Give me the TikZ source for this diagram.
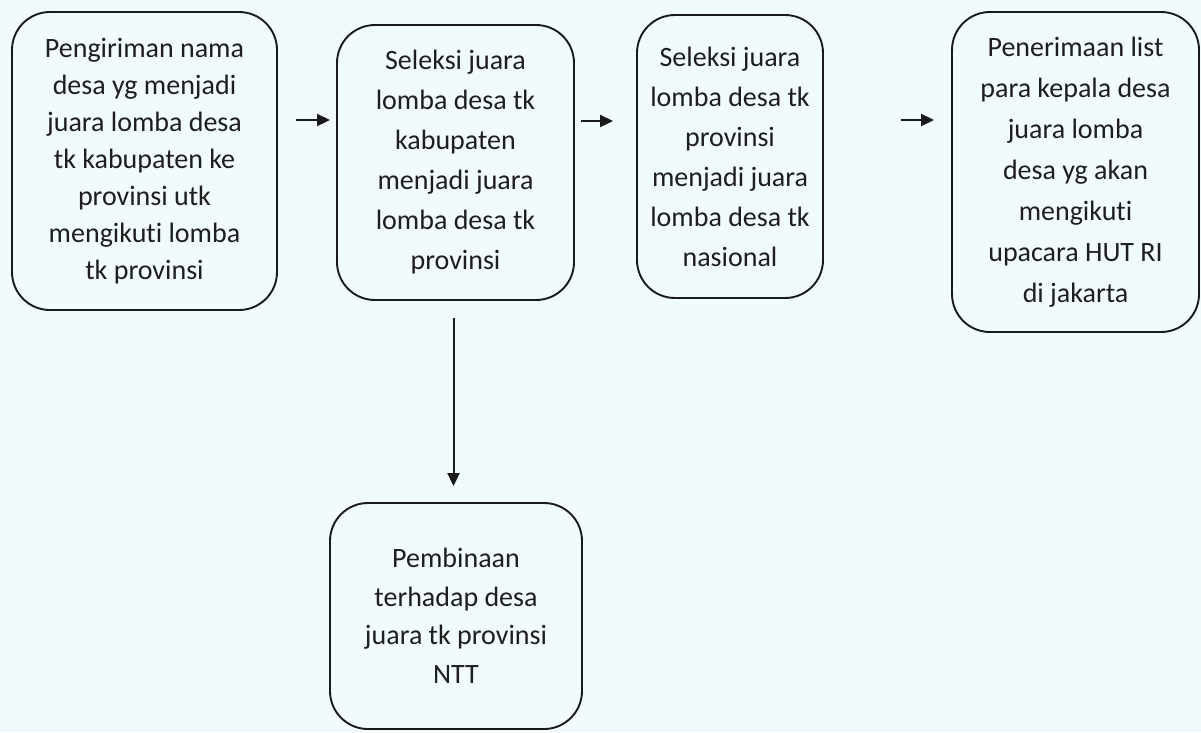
\documentclass[tikz,border=0pt]{standalone}
\usepackage{fontspec}
\setmainfont{Carlito}[RawFeature={-liga;-clig;-calt;-dlig}]
\usetikzlibrary{arrows.meta}
\definecolor{paper}{HTML}{F1FAFC}
\definecolor{ink}{HTML}{1E1E1E}
\definecolor{edge}{HTML}{1A1A1A}
\begin{document}
\begin{tikzpicture}[x=1pt,y=-1pt,
  stagebox/.style={draw=edge, line width=1.9pt, rounded corners=38pt,
    inner sep=0pt, align=center, text=ink},
  flow/.style={draw=edge, line width=2pt,
    -{Triangle[length=13pt,width=12pt]}}]
  % page
  \fill[paper] (0,0) rectangle (1201,732);
  \useasboundingbox (0,0) rectangle (1201,732);

  % process stages
  \node[stagebox, minimum width=265pt, minimum height=298pt,
        font=\fontsize{28}{37}\selectfont] (b1) at (144.5,161)
    {Pengiriman nama\\desa yg menjadi\\juara lomba desa\\tk kabupaten ke\\provinsi utk\\mengikuti lomba\\tk provinsi};
  \node[stagebox, minimum width=237pt, minimum height=275pt,
        font=\fontsize{28}{40}\selectfont] (b2) at (455.5,162.5)
    {Seleksi juara\\lomba desa tk\\kabupaten\\menjadi juara\\lomba desa tk\\provinsi};
  \node[stagebox, minimum width=186pt, minimum height=283pt,
        font=\fontsize{28}{40}\selectfont] (b3) at (730,156.5)
    {Seleksi juara\\lomba desa tk\\provinsi\\menjadi juara\\lomba desa tk\\nasional};
  \node[stagebox, minimum width=247pt, minimum height=320pt,
        font=\fontsize{28}{41}\selectfont] (b4) at (1075.5,172)
    {Penerimaan list\\para kepala desa\\juara lomba\\desa yg akan\\mengikuti\\upacara HUT RI\\di jakarta};
  \node[stagebox, minimum width=252pt, minimum height=226pt,
        font=\fontsize{28}{38.5}\selectfont] (b5) at (456,616)
    {Pembinaan\\terhadap desa\\juara tk provinsi\\NTT};

  % short arrows between the stages
  \draw[flow, shorten <=18pt, shorten >=6pt] (b1.east |- 0,120) -- (b2.west |- 0,120);
  \draw[flow, shorten <=6pt, shorten >=23pt] (b2.east |- 0,121) -- (b3.west |- 0,121);
  \draw[flow, shorten <=77pt, shorten >=17pt] (b3.east |- 0,120) -- (b4.west |- 0,120);
  % branch down to the coaching stage
  \draw[flow, shorten <=17pt, shorten >=16pt] ([xshift=-2pt]b2.south) -- ([xshift=-2pt]b2.south |- b5.north);
\end{tikzpicture}
\end{document}
